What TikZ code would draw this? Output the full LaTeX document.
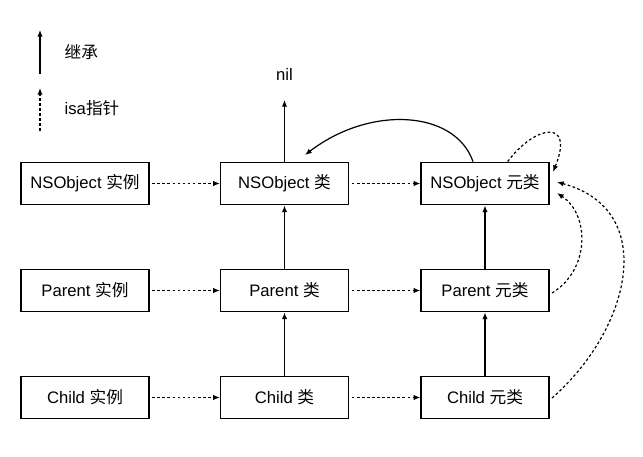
\documentclass[tikz,border=0pt]{standalone}
\usepackage{fontspec}
\setmainfont{Liberation Sans}
\newfontfamily\cjk{Noto Sans CJK SC}
\usetikzlibrary{arrows.meta}
\tikzset{
    txt/.style={font=\fontsize{12.5}{15}\selectfont},
    box/.style={txt, draw=black, line width=0.9pt, minimum width=96pt, minimum height=32pt, inner sep=0pt},
    inherit/.style={-{Latex[length=5pt,width=4pt]}, line width=0.9pt},
    isa/.style={-{Latex[length=5pt,width=4pt]}, line width=0.9pt, dash pattern=on 2pt off 1.8pt}
}
\begin{document}
\begin{tikzpicture}[x=0.75pt, y=-0.75pt]
        \useasboundingbox (0,0) rectangle (643,457);

        % legend
        \coordinate (L1) at (40,74);
        \coordinate (L2) at (40,30);
        \coordinate (L3) at (40,131);
        \coordinate (L4) at (40,88);
        \node[txt, anchor=west] (K1) at (60,52) {\cjk 继承};
        \node[txt, anchor=west] (K2) at (60,108) {isa{\cjk 指针}};
        \draw[inherit] (L1) -- (L2);
        \draw[isa] (L3) -- (L4);

        % boxes
        \node[box] (NI) at (85,183.5) {NSObject {\cjk 实例}};
        \node[box] (PI) at (85,290.5) {Parent {\cjk 实例}};
        \node[box] (CI) at (85,397.5) {Child {\cjk 实例}};
        \node[box] (NC) at (284.5,183.5) {NSObject {\cjk 类}};
        \node[box] (PC) at (284.5,290.5) {Parent {\cjk 类}};
        \node[box] (CC) at (284.5,397.5) {Child {\cjk 类}};
        \node[box] (NM) at (485,183.5) {NSObject {\cjk 元类}};
        \node[box] (PM) at (485,290.5) {Parent {\cjk 元类}};
        \node[box] (CM) at (485,397.5) {Child {\cjk 元类}};

        \node[txt] (nil) at (284.5,74) {nil};
        \coordinate (T) at (284.5,100);

        % inheritance
        \draw[inherit] (NC) -- (T);
        \draw[inherit] (PC) -- (NC);
        \draw[inherit] (CC) -- (PC);
        \draw[inherit] (PM) -- (NM);
        \draw[inherit] (CM) -- (PM);
        \draw[inherit] ([xshift=-9pt]NM.north) .. controls (455,110) and (370,105) .. (305,155);

        % isa
        \draw[isa, shorten <=2pt] (NI) -- (NC);
        \draw[isa, shorten <=2pt] (PI) -- (PC);
        \draw[isa, shorten <=2pt] (CI) -- (CC);
        \draw[isa, shorten <=2pt] (NC) -- (NM);
        \draw[isa, shorten <=2pt] (PC) -- (PM);
        \draw[isa, shorten <=2pt] (CC) -- (CM);
        \draw[isa] ([xshift=17pt]NM.north) .. controls (535,125) and (575,118) .. (553,172);
        \draw[isa] (552,293) .. controls (590,270) and (590,215) .. (557,193);
        \draw[isa] (552,398) .. controls (630,330) and (660,210) .. (557,182);
    \end{tikzpicture}
\end{document}
